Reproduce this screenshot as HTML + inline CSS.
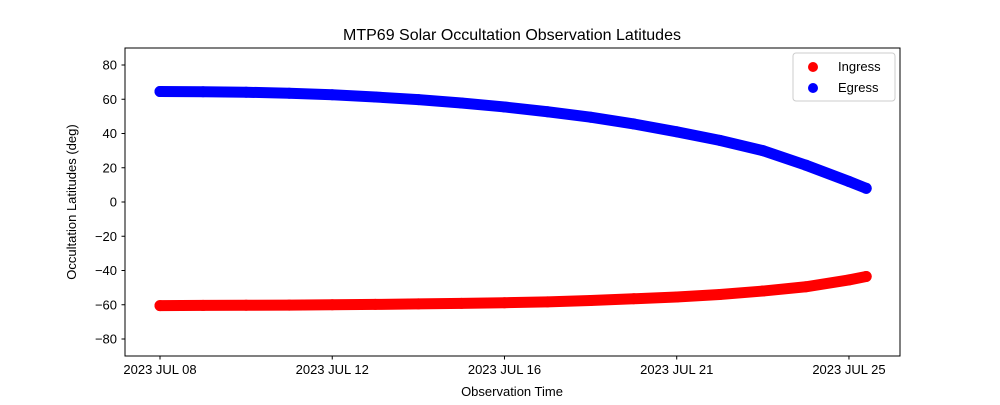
<!DOCTYPE html>
<html><head><meta charset="utf-8"><style>
body{margin:0;background:#fff;}
text{font-family:"Liberation Sans","DejaVu Sans",sans-serif;fill:#000;}
</style></head><body>
<svg id="chart" width="1000" height="400" xmlns="http://www.w3.org/2000/svg">
<rect width="1000" height="400" fill="#fff"/>
<text x="512" y="40" font-size="16" text-anchor="middle">MTP69 Solar Occultation Observation Latitudes</text>
<g id="marks"></g>
<rect x="125" y="48" width="775" height="308" fill="none" stroke="#000" stroke-width="1"/>
<g id="axes"></g>
<text x="512" y="396" font-size="13" text-anchor="middle">Observation Time</text>
<text transform="translate(76,202) rotate(-90)" font-size="13" text-anchor="middle">Occultation Latitudes (deg)</text>
<g>
<rect x="793" y="53" width="102" height="48" fill="#fff" stroke="#ccc" rx="3"/>
<circle cx="813" cy="67" r="5" fill="#f00"/>
<text x="838" y="71" font-size="13">Ingress</text>
<circle cx="813" cy="88" r="5" fill="#00f"/>
<text x="838" y="92" font-size="13">Egress</text>
</g>
</svg>
<script>
const obsIndex=[0,1,2,3,4,5,6,7,8,9,10,11,12,13,14,15,16,16.4];
const egressLat=[64.5,64.4,64.1,63.5,62.6,61.3,59.8,57.8,55.5,52.7,49.5,45.6,41,36,30,21.5,12,8];
const ingressLat=[-60.5,-60.4,-60.3,-60.2,-60,-59.8,-59.5,-59.2,-58.8,-58.3,-57.5,-56.5,-55.5,-54,-52,-49.5,-45.5,-43.5];
const xTickVals=[0,4,8,12,16];
const xTickLabels=["2023 JUL 08","2023 JUL 12","2023 JUL 16","2023 JUL 21","2023 JUL 25"];
const yTickVals=[-80,-60,-40,-20,0,20,40,60,80];
const NS="http://www.w3.org/2000/svg";
function xs(v){return 160+v*43.06;}
function ys(v){return 202-v*1.7125;}
const marks=document.getElementById('marks'),axes=document.getElementById('axes');
function mk(t,a,p){const e=document.createElementNS(NS,t);for(const k in a)e.setAttribute(k,a[k]);p.appendChild(e);return e;}
function series(vals,color,name){
  const pts=obsIndex.map((x,i)=>xs(x)+','+ys(vals[i])).join(' ');
  const pl=mk('polyline',{points:pts,fill:'none',stroke:color,'stroke-width':11,'stroke-linejoin':'round','stroke-linecap':'round'},marks);
  
  
  obsIndex.forEach((x,i)=>{const c=mk('circle',{cx:xs(x),cy:ys(vals[i]),r:5.5,fill:color},marks);
    
    });
}
series(ingressLat,'#f00','ingress');
series(egressLat,'#00f','egress');
xTickVals.forEach((v,i)=>{const x=xs(v);
  const l=mk('line',{x1:x,x2:x,y1:356,y2:359.5,stroke:'#000'},axes);
  
  
  const t=mk('text',{x:x,y:374,'font-size':13,'text-anchor':'middle'},axes);t.textContent=xTickLabels[i];
  
  });
yTickVals.forEach(v=>{const y=ys(v);
  const l=mk('line',{x1:121.5,x2:125,y1:y,y2:y,stroke:'#000'},axes);
  
  
  const t=mk('text',{x:117,y:y+4.5,'font-size':13,'text-anchor':'end'},axes);t.textContent=v<0?'\u2212'+(-v):String(v);
  
  });
</script>
</body></html>
